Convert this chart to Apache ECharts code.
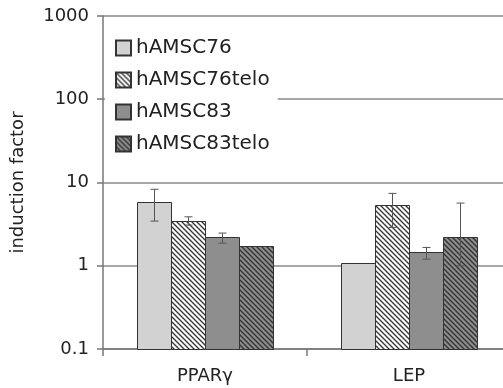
<!DOCTYPE html>
<html>
<head>
<meta charset="utf-8">
<script src="https://cdn.jsdelivr.net/npm/echarts@6/dist/echarts.min.js"></script>
<style>
  html, body { margin: 0; padding: 0; background: #fff; }
  #chart { width: 503px; height: 388px; }
</style>
</head>
<body>
<div id="chart"></div>
<script>
const categories = ['PPARγ', 'LEP'];
const seriesNames = ['hAMSC76', 'hAMSC76telo', 'hAMSC83', 'hAMSC83telo'];
const yTicks = [0.1, 1, 10, 100, 1000];

// bar heights per series (PPARγ, LEP)
const hAMSC76 = [5.9, 1.07];
const hAMSC76telo = [3.44, 5.4];
const hAMSC83 = [2.19, 1.47];
const hAMSC83telo = [1.74, 2.23];

// error bar ends [low, high], null = none drawn
const hAMSC76Err = [[3.44, 8.3], null];
const hAMSC76teloErr = [[3.08, 3.87], [2.89, 7.4]];
const hAMSC83Err = [[1.87, 2.47], [1.2, 1.66]];
const hAMSC83teloErr = [null, [1.0, 5.66]];

const values = [hAMSC76, hAMSC76telo, hAMSC83, hAMSC83telo];
const errors = [hAMSC76Err, hAMSC76teloErr, hAMSC83Err, hAMSC83teloErr];

function hatch(bg, line) {
    const s = 5;
    const c = document.createElement('canvas');
    c.width = s;
    c.height = s;
    const ctx = c.getContext('2d');
    ctx.fillStyle = bg;
    ctx.fillRect(0, 0, s, s);
    ctx.strokeStyle = line;
    ctx.lineWidth = 1.4;
    ctx.beginPath();
    for (let k = -s; k <= s; k += s) {
        ctx.moveTo(k - 1, -1);
        ctx.lineTo(k + s + 1, s + 1);
    }
    ctx.stroke();
    return { image: c, repeat: 'repeat' };
}

const fills = [
    '#d2d2d2',
    hatch('#ffffff', '#3a3a3a'),
    '#8e8e8e',
    hatch('#8e8e8e', '#333333')
];

const barW = 34;
const font = 'DejaVu Sans';
const edge = { stroke: '#333', lineWidth: 1 };

const errData = [];
errors.forEach((arr, s) => {
    arr.forEach((e, i) => {
        if (e) errData.push([i, e[0], e[1], s]);
    });
});

// log axis bars in echarts start at 1, so draw them from the axis min
function barSeries(name, s) {
    return {
        name: name,
        type: 'custom',
        data: values[s].map((v, i) => [i, v]),
        encode: { x: 0, y: 1 },
        itemStyle: { color: fills[s], borderColor: edge.stroke, borderWidth: 1 },
        renderItem: function (params, api) {
            const off = (s - 2) * barW;
            const top = api.coord([api.value(0), api.value(1)]);
            const base = api.coord([api.value(0), yTicks[0]]);
            return {
                type: 'rect',
                shape: { x: Math.round(top[0] + off) + 0.5, y: Math.round(top[1]) + 0.5, width: barW, height: Math.round(base[1] - top[1]) },
                style: { fill: fills[s], stroke: edge.stroke, lineWidth: edge.lineWidth }
            };
        }
    };
}

const chart = echarts.init(document.getElementById('chart'));

chart.setOption({
    animation: false,
    textStyle: { fontFamily: font, color: '#222' },
    grid: { left: 103, width: 408, top: 16, bottom: 39, outerBoundsMode: 'none', containLabel: false },
    legend: {
        data: seriesNames,
        orient: 'vertical',
        left: 105,
        top: 30,
        padding: [8, 8, 8, 10],
        backgroundColor: '#fff',
        icon: 'rect',
        itemWidth: 15,
        itemHeight: 15,
        itemGap: 12,
        textStyle: { fontFamily: font, fontSize: 20, color: '#222' }
    },
    xAxis: {
        type: 'category',
        data: categories,
        axisLine: { lineStyle: { color: '#777', width: 1.5 } },
        axisTick: { show: true, length: 7, lineStyle: { color: '#777', width: 1.5 } },
        axisLabel: { fontFamily: font, fontSize: 18, color: '#222', margin: 18 }
    },
    yAxis: {
        type: 'log',
        logBase: 10,
        min: yTicks[0],
        max: yTicks[yTicks.length - 1],
        name: 'induction factor',
        nameLocation: 'middle',
        nameGap: 76,
        nameTextStyle: { fontFamily: font, fontSize: 18, color: '#222' },
        axisLine: { show: true, lineStyle: { color: '#777', width: 1.5 } },
        axisTick: { show: true, length: 6, lineStyle: { color: '#777', width: 1.5 } },
        axisLabel: {
            fontFamily: font,
            fontSize: 18,
            color: '#222',
            margin: 14,
            formatter: v => String(+Number(v).toPrecision(3))
        },
        splitLine: { show: true, lineStyle: { color: '#8a8a8a', width: 1.5 } }
    },
    series: seriesNames.map(barSeries).concat([{
        type: 'custom',
        name: 'err',
        z: 5,
        data: errData,
        encode: { x: 0, y: [1, 2] },
        renderItem: function (params, api) {
            const off = (api.value(3) - 1.5) * barW;
            const lo = api.coord([api.value(0), api.value(1)]);
            const hi = api.coord([api.value(0), api.value(2)]);
            const x = Math.round(lo[0] + off) + 0.5;
            const style = { stroke: '#555', lineWidth: 1 };
            return {
                type: 'group',
                children: [
                    { type: 'line', shape: { x1: x, y1: lo[1], x2: x, y2: hi[1] }, style: style },
                    { type: 'line', shape: { x1: x - 4, y1: lo[1], x2: x + 4, y2: lo[1] }, style: style },
                    { type: 'line', shape: { x1: x - 4, y1: hi[1], x2: x + 4, y2: hi[1] }, style: style }
                ]
            };
        }
    }])
});
</script>
</body>
</html>
